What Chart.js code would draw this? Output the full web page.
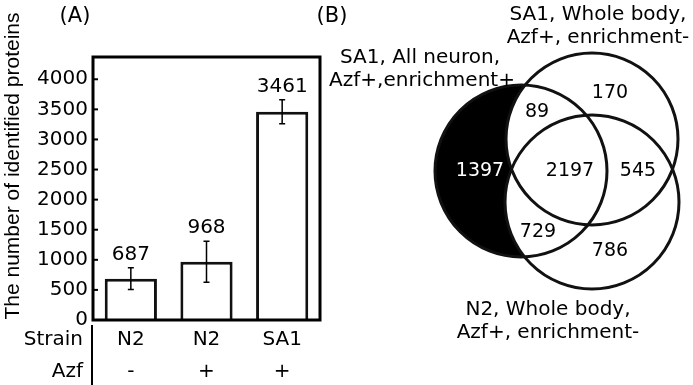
<!DOCTYPE html>
<html>
<head>
<meta charset="utf-8">
<script src="https://cdn.jsdelivr.net/npm/chart.js@4.4.0/dist/chart.umd.min.js"></script>
<style>
  html, body { margin: 0; padding: 0; background: #fff; }
  #wrap { position: relative; width: 693px; height: 385px; }
  #barCanvas { position: absolute; left: 0; top: 0; }
  #vennCanvas { position: absolute; left: 300px; top: 0; }
</style>
</head>
<body>
<div id="wrap">
  <canvas id="barCanvas" width="340" height="385"></canvas>
  <canvas id="vennCanvas" width="393" height="385"></canvas>
</div>
<script>
// ---- Panel A data ----
const strains = ['N2', 'N2', 'SA1'];
const azf = ['-', '+', '+'];
const proteinCounts = [687, 968, 3461];
const proteinErrors = [180, 340, 200];
const yTicks = [0, 500, 1000, 1500, 2000, 2500, 3000, 3500, 4000];

// ---- Panel B data (Venn) ----
const setNames = [
  ['SA1, All neuron,', 'Azf+,enrichment+'],
  ['SA1, Whole body,', 'Azf+, enrichment-'],
  ['N2, Whole body,', 'Azf+, enrichment-']
];
// circle centres / radii in diagram units
const circleX = [521, 592, 592];
const circleY = [171, 139, 202];
const circleR = [86, 86, 87];
// region counts: A only, A∩B, B only, A∩B∩C, B∩C, A∩C, C only
const regionCounts = [1397, 89, 170, 2197, 545, 729, 786];
const regionX = [480, 537, 610, 570, 638, 538, 610];
const regionY = [171, 112, 93, 171, 171, 232, 251];

const FONT = '"DejaVu Sans", sans-serif';
const TITLE_FONT = '"Liberation Sans", Arial, sans-serif';

// ---------------- Panel A ----------------
const barExtras = {
  id: 'barExtras',
  afterDatasetsDraw(chart) {
    const ctx = chart.ctx;
    const y = chart.scales.y;
    const area = chart.chartArea;
    const bars = chart.getDatasetMeta(0).data;
    ctx.save();
    // frame
    ctx.strokeStyle = '#000';
    ctx.lineWidth = 3;
    ctx.strokeRect(area.left, area.top, area.right - area.left, area.bottom - area.top);
    // small inward ticks
    ctx.lineWidth = 2;
    yTicks.forEach(v => {
      const p = y.getPixelForValue(v);
      ctx.beginPath();
      ctx.moveTo(area.left, p);
      ctx.lineTo(area.left + 5, p);
      ctx.stroke();
    });
    // error bars and value labels
    ctx.lineWidth = 1.5;
    ctx.fillStyle = '#000';
    ctx.font = '20px ' + FONT;
    ctx.textAlign = 'center';
    ctx.textBaseline = 'bottom';
    bars.forEach((bar, i) => {
      const top = y.getPixelForValue(proteinCounts[i] + proteinErrors[i]);
      const bot = y.getPixelForValue(proteinCounts[i] - proteinErrors[i]);
      ctx.beginPath();
      ctx.moveTo(bar.x, top); ctx.lineTo(bar.x, bot);
      ctx.moveTo(bar.x - 3, top); ctx.lineTo(bar.x + 3, top);
      ctx.moveTo(bar.x - 3, bot); ctx.lineTo(bar.x + 3, bot);
      ctx.stroke();
      ctx.fillText(String(proteinCounts[i]), bar.x, top - 3);
    });
    // row headers under the x axis
    ctx.font = '20px ' + FONT;
    ctx.textAlign = 'right';
    ctx.textBaseline = 'middle';
    ctx.fillText('Strain', 83, 340);
    ctx.fillText('Azf', 83, 372);
    ctx.lineWidth = 2;
    ctx.beginPath();
    ctx.moveTo(92, area.bottom + 5);
    ctx.lineTo(92, 385);
    ctx.stroke();
    // y title
    ctx.save();
    ctx.translate(18.5, 166);
    ctx.rotate(-Math.PI / 2);
    ctx.textAlign = 'center';
    ctx.textBaseline = 'alphabetic';
    ctx.font = '21px ' + TITLE_FONT;
    ctx.fillText('The number of identified proteins', 0, 0);
    ctx.restore();
    // panel letter
    ctx.textAlign = 'center';
    ctx.textBaseline = 'middle';
    ctx.font = '21px ' + FONT;
    ctx.fillText('(A)', 75, 17);
    ctx.restore();
  }
};

new Chart(document.getElementById('barCanvas'), {
  type: 'bar',
  data: {
    labels: strains.map((s, i) => [s, azf[i]]),
    datasets: [{
      data: proteinCounts,
      backgroundColor: '#fff',
      borderColor: '#111',
      borderWidth: 3,
      barPercentage: 0.69,
      categoryPercentage: 1
    }]
  },
  options: {
    responsive: false,
    animation: false,
    layout: { padding: { left: 0, top: 57, right: 20, bottom: 0 } },
    plugins: { legend: { display: false }, tooltip: { enabled: false } },
    scales: {
      x: {
        grid: { display: false, drawTicks: false },
        border: { display: false },
        ticks: { color: '#000', font: { size: 20, family: FONT, lineHeight: 1.6 }, padding: 4, maxRotation: 0 },
        afterFit(scale) { scale.height = 65; }
      },
      y: {
        min: 0,
        max: 4370,
        grid: { display: false, drawTicks: false },
        border: { display: false },
        ticks: {
          color: '#000',
          font: { size: 20, family: FONT },
          padding: 5,
          callback: v => String(v)
        },
        afterBuildTicks(scale) { scale.ticks = yTicks.map(v => ({ value: v })); },
        afterFit(scale) { scale.width = 93; }
      }
    }
  },
  plugins: [barExtras]
});

// ---------------- Panel B ----------------
const vennDraw = {
  id: 'vennDraw',
  afterDatasetsDraw(chart) {
    const ctx = chart.ctx;
    const xs = chart.scales.x;
    const ys = chart.scales.y;
    const px = v => xs.getPixelForValue(v);
    const py = v => ys.getPixelForValue(v);
    const pr = r => Math.abs(xs.getPixelForValue(r) - xs.getPixelForValue(0));
    const circle = i => {
      ctx.beginPath();
      ctx.arc(px(circleX[i]), py(circleY[i]), pr(circleR[i]), 0, Math.PI * 2);
    };
    ctx.save();
    // A only region black
    ctx.fillStyle = '#000';
    circle(0); ctx.fill();
    ctx.fillStyle = '#fff';
    circle(1); ctx.fill();
    circle(2); ctx.fill();
    ctx.strokeStyle = '#111';
    ctx.lineWidth = 3;
    [0, 1, 2].forEach(i => { circle(i); ctx.stroke(); });
    // region counts
    ctx.font = '19px ' + FONT;
    ctx.textAlign = 'center';
    ctx.textBaseline = 'middle';
    regionCounts.forEach((n, i) => {
      ctx.fillStyle = i === 0 ? '#fff' : '#000';
      ctx.fillText(String(n), px(regionX[i]), py(regionY[i]));
    });
    // set names
    ctx.fillStyle = '#000';
    ctx.font = '20px ' + FONT;
    const nameAt = [[420, 58], [598, 15], [548, 310]];
    setNames.forEach((lines, i) => {
      lines.forEach((t, j) => {
        ctx.fillText(t, px(nameAt[i][0] + (i === 0 && j === 1 ? 2 : 0)), py(nameAt[i][1] + j * 23));
      });
    });
    ctx.font = '21px ' + FONT;
    ctx.fillText('(B)', px(332), py(17));
    ctx.restore();
  }
};

new Chart(document.getElementById('vennCanvas'), {
  type: 'scatter',
  data: { datasets: [{ data: [], pointRadius: 0 }] },
  options: {
    responsive: false,
    animation: false,
    layout: { padding: 0 },
    plugins: { legend: { display: false }, tooltip: { enabled: false } },
    scales: {
      x: { display: false, min: 300, max: 693 },
      y: { display: false, min: 0, max: 385, reverse: true }
    }
  },
  plugins: [vennDraw]
});
</script>
</body>
</html>
